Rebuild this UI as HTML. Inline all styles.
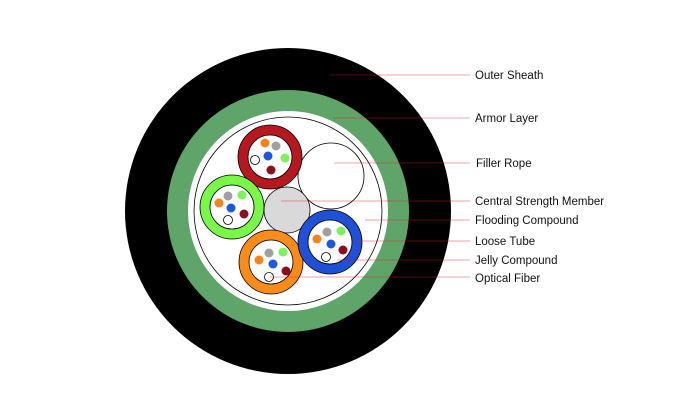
<!DOCTYPE html>
<html><head><meta charset="utf-8"><style>
html,body{margin:0;padding:0;background:#fff;}
svg{display:block;}
text{font-family:"Liberation Sans",sans-serif;font-size:11.5px;fill:#111;}
</style></head><body>
<svg width="680" height="401" viewBox="0 0 680 401" xmlns="http://www.w3.org/2000/svg">
<circle cx="288" cy="211" r="163" fill="#000"/>
<circle cx="288" cy="211" r="121" fill="#5fa56a"/>
<circle cx="288" cy="211" r="100" fill="#fff"/>
<circle cx="288" cy="211" r="94" fill="#fff" stroke="#000" stroke-width="0.8"/>
<circle cx="331" cy="176" r="33" fill="#fff" stroke="#000" stroke-width="0.8"/>
<circle cx="287" cy="210" r="23" fill="#d9d9d9" stroke="#000" stroke-width="0.8"/>
<g stroke="#000" stroke-width="0.8">
<circle cx="270" cy="157" r="32" fill="#b5191f"/><circle cx="270" cy="157" r="22" fill="#fff"/>
<circle cx="232" cy="207" r="32" fill="#7bf74a"/><circle cx="232" cy="207" r="22" fill="#fff"/>
<circle cx="271" cy="262" r="32" fill="#fb8c1a"/><circle cx="271" cy="262" r="22" fill="#fff"/>
<circle cx="330" cy="242" r="32" fill="#1f50d6"/><circle cx="330" cy="242" r="22" fill="#fff"/>
</g>
<g>
<!-- red tube -->
<circle cx="265" cy="143" r="4.5" fill="#f7821e"/><circle cx="276" cy="146" r="4.5" fill="#a0a0a0"/>
<circle cx="268" cy="156" r="4.5" fill="#1c58d8"/><circle cx="285" cy="158" r="4.5" fill="#7cf25c"/>
<circle cx="255" cy="160" r="4.5" fill="#fff" stroke="#000" stroke-width="0.8"/><circle cx="271" cy="170" r="4.5" fill="#8a1020"/>
<!-- green tube -->
<circle cx="228" cy="196" r="4.5" fill="#a0a0a0"/><circle cx="242" cy="195" r="4.5" fill="#7cf25c"/>
<circle cx="219" cy="203" r="4.5" fill="#f7821e"/><circle cx="231" cy="208" r="4.5" fill="#1c58d8"/>
<circle cx="244" cy="214" r="4.5" fill="#8a1020"/><circle cx="228" cy="220" r="4.5" fill="#fff" stroke="#000" stroke-width="0.8"/>
<!-- orange tube -->
<circle cx="269" cy="253" r="4.5" fill="#a0a0a0"/><circle cx="283" cy="252" r="4.5" fill="#7cf25c"/>
<circle cx="259" cy="260" r="4.5" fill="#f7821e"/><circle cx="273" cy="264" r="4.5" fill="#1c58d8"/>
<circle cx="286" cy="271" r="4.5" fill="#8a1020"/><circle cx="269" cy="277" r="4.5" fill="#fff" stroke="#000" stroke-width="0.8"/>
<!-- blue tube -->
<circle cx="327" cy="232" r="4.5" fill="#a0a0a0"/><circle cx="341" cy="231" r="4.5" fill="#7cf25c"/>
<circle cx="317" cy="239" r="4.5" fill="#f7821e"/><circle cx="331" cy="244" r="4.5" fill="#1c58d8"/>
<circle cx="343" cy="250" r="4.5" fill="#8a1020"/><circle cx="326" cy="257" r="4.5" fill="#fff" stroke="#000" stroke-width="0.8"/>
</g>
<g stroke="rgba(210,30,40,0.4)" stroke-width="1">
<line x1="330" y1="75" x2="470" y2="75"/>
<line x1="333" y1="118" x2="470" y2="118"/>
<line x1="334" y1="163" x2="470" y2="163"/>
<line x1="281" y1="201" x2="470" y2="201"/>
<line x1="365" y1="220" x2="470" y2="220"/>
<line x1="355" y1="241" x2="470" y2="241"/>
<line x1="337" y1="260" x2="470" y2="260"/>
<line x1="270" y1="277" x2="470" y2="277"/>
</g>
<text x="475" y="79">Outer Sheath</text>
<text x="475" y="122">Armor Layer</text>
<text x="476" y="167">Filler Rope</text>
<text x="475" y="205">Central Strength Member</text>
<text x="475" y="224">Flooding Compound</text>
<text x="475" y="245">Loose Tube</text>
<text x="475" y="264">Jelly Compound</text>
<text x="475" y="282">Optical Fiber</text>
</svg>
</body></html>
